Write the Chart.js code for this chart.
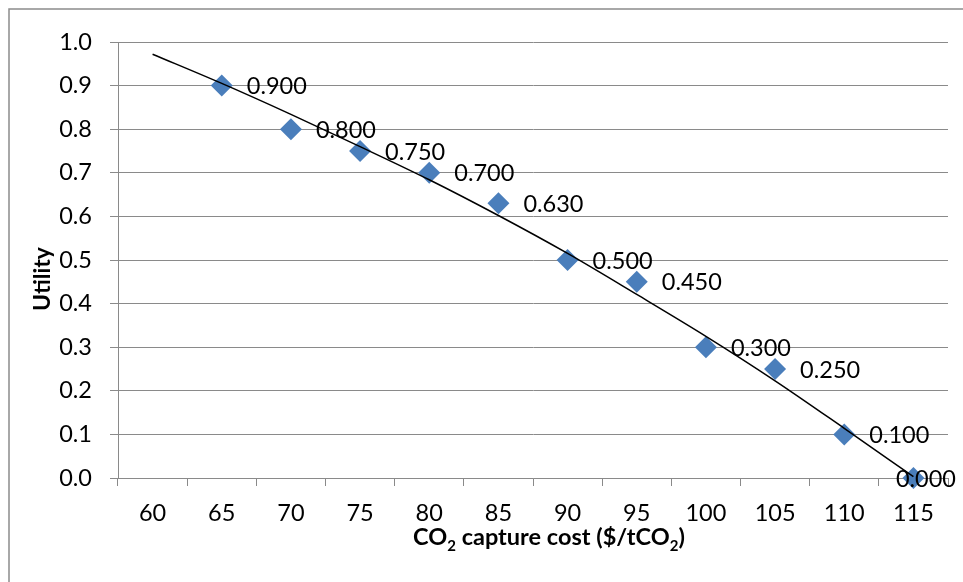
<!DOCTYPE html>
<html>
<head>
<meta charset="utf-8">
<title>Utility vs CO2 capture cost</title>
<script src="https://cdn.jsdelivr.net/npm/chart.js@4/dist/chart.umd.min.js"></script>
<style>
    html, body { margin: 0; padding: 0; background: #fff; }
    #wrap { position: relative; width: 963px; height: 582px; overflow: hidden; }
</style>
</head>
<body>
<div id="wrap"><canvas id="utilityChart" width="963" height="582"></canvas></div>
<script>
// Capture cost categories ($/tCO2)
const costs = ['60', '65', '70', '75', '80', '85', '90', '95', '100', '105', '110', '115'];
// Utility of each cost (no point at 60)
const utility = [null, 0.900, 0.800, 0.750, 0.700, 0.630, 0.500, 0.450, 0.300, 0.250, 0.100, 0.000];
// Trend line at each category
const trend = [0.972, 0.905, 0.834, 0.760, 0.684, 0.602, 0.515, 0.421, 0.325, 0.223, 0.114, 0.003];
// Y axis tick labels
const yTickLabels = ['0.0', '0.1', '0.2', '0.3', '0.4', '0.5', '0.6', '0.7', '0.8', '0.9', '1.0'];

const FONT = 'Lato, "Liberation Sans", sans-serif';
const GRID = '#8a8a8a';
const BLUE = '#4a7ebb';

// White background and the outer chart frame
const framePlugin = {
    id: 'frame',
    beforeDraw(chart) {
        const ctx = chart.ctx;
        ctx.save();
        ctx.fillStyle = '#fff';
        ctx.fillRect(0, 0, chart.width, chart.height);
        ctx.strokeStyle = '#8c8c8c';
        ctx.lineWidth = 1.5;
        ctx.strokeRect(9, 9, chart.width + 50, chart.height + 50);
        ctx.restore();
    }
};

// Value labels to the right of each diamond
const valueLabels = {
    id: 'valueLabels',
    afterDatasetsDraw(chart) {
        const ctx = chart.ctx;
        const meta = chart.getDatasetMeta(0);
        ctx.save();
        ctx.font = '23.5px ' + FONT;
        ctx.fillStyle = '#000';
        ctx.textBaseline = 'middle';
        ctx.textAlign = 'left';
        meta.data.forEach((pt, i) => {
            const v = utility[i];
            if (v === null) return;
            const txt = v.toFixed(3);
            const w = ctx.measureText(txt).width;
            let x = pt.x + 25;
            if (x + w > chart.width - 7) x = chart.width - 7 - w;
            ctx.fillText(txt, x, pt.y + 1);
        });
        ctx.restore();
    }
};

// Axis titles (x title has subscripts)
const axisTitles = {
    id: 'axisTitles',
    afterDraw(chart) {
        const ctx = chart.ctx;
        ctx.save();
        ctx.fillStyle = '#000';

        // y title
        ctx.font = 'bold 23px ' + FONT;
        ctx.textAlign = 'center';
        ctx.textBaseline = 'middle';
        ctx.translate(43, 279);
        ctx.rotate(-Math.PI / 2);
        ctx.fillText('Utility', 0, 0);
        ctx.setTransform(1, 0, 0, 1, 0, 0);

        // x title
        const parts = [['CO', false], ['2', true], [' capture cost ($/tCO', false], ['2', true], [')', false]];
        const big = 'bold 23.5px ' + FONT;
        const small = 'bold 15px ' + FONT;
        let total = 0;
        parts.forEach(p => {
            ctx.font = p[1] ? small : big;
            total += ctx.measureText(p[0]).width;
        });
        let x = 549 - total / 2;
        const base = 545;
        ctx.textAlign = 'left';
        ctx.textBaseline = 'alphabetic';
        parts.forEach(p => {
            ctx.font = p[1] ? small : big;
            ctx.fillText(p[0], x, p[1] ? base + 6 : base);
            x += ctx.measureText(p[0]).width;
        });
        ctx.restore();
    }
};

const ctx = document.getElementById('utilityChart').getContext('2d');
new Chart(ctx, {
    type: 'line',
    data: {
        labels: costs,
        datasets: [
            {
                label: 'Utility',
                data: utility,
                showLine: false,
                pointStyle: 'rectRot',
                pointRadius: 11,
                pointBackgroundColor: BLUE,
                pointBorderColor: BLUE,
                pointBorderWidth: 0,
                clip: false,
                order: 1
            },
            {
                label: 'Trend',
                data: trend,
                borderColor: '#000',
                borderWidth: 1.5,
                pointRadius: 0,
                cubicInterpolationMode: 'monotone',
                fill: false,
                clip: false,
                order: 0
            }
        ]
    },
    options: {
        responsive: false,
        animation: false,
        devicePixelRatio: 1,
        layout: { padding: { top: 42, right: 15, left: 0, bottom: 0 } },
        plugins: {
            legend: { display: false },
            tooltip: { enabled: false }
        },
        scales: {
            x: {
                type: 'category',
                offset: true,
                grid: {
                    offset: true,
                    drawOnChartArea: false,
                    drawTicks: true,
                    tickLength: 8,
                    color: GRID
                },
                border: { color: GRID, width: 1 },
                ticks: {
                    font: { family: FONT, size: 23.5 },
                    color: '#000',
                    padding: 13,
                    maxRotation: 0,
                    autoSkip: false
                },
                afterFit(scale) { scale.height = 104; }
            },
            y: {
                min: 0,
                max: 1,
                grid: { color: GRID, tickLength: 8 },
                border: { color: GRID, width: 1 },
                ticks: {
                    stepSize: 0.1,
                    font: { family: FONT, size: 23.5 },
                    color: '#000',
                    padding: 18,
                    callback: function(value, index) {
                        return yTickLabels[index];
                    }
                },
                afterFit(scale) { scale.width = 118; }
            }
        }
    },
    plugins: [framePlugin, valueLabels, axisTitles]
});
</script>
</body>
</html>
